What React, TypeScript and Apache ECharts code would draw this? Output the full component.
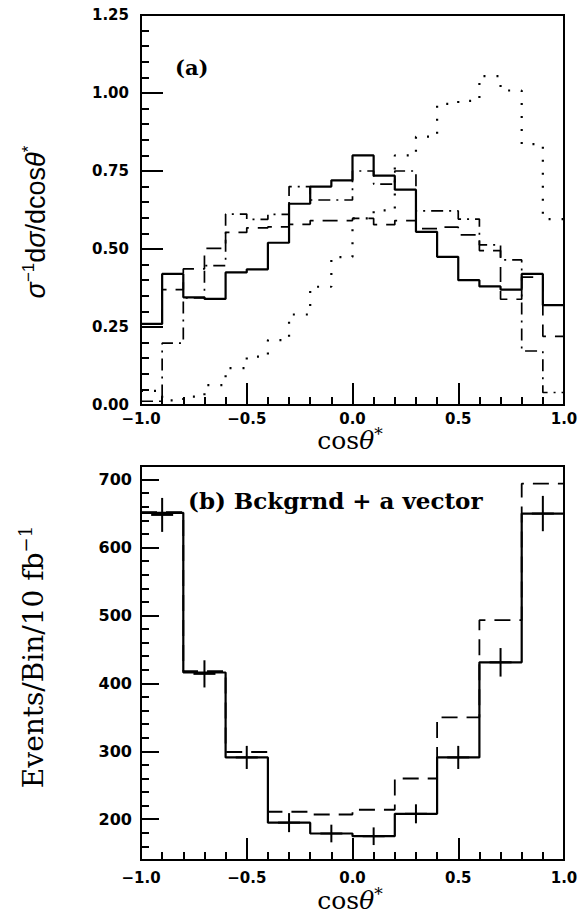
import React, { useEffect, useRef } from 'react';
import * as echarts from 'echarts';

// ---------- Panel (a): normalized distributions ----------
const topBinEdges = [-1.0, -0.9, -0.8, -0.7, -0.6, -0.5, -0.4, -0.3, -0.2, -0.1, 0.0, 0.1, 0.2, 0.3, 0.4, 0.5, 0.6, 0.7, 0.8, 0.9, 1.0];
const topSolid = [0.26, 0.42, 0.345, 0.34, 0.425, 0.435, 0.52, 0.645, 0.70, 0.72, 0.80, 0.735, 0.69, 0.555, 0.475, 0.40, 0.38, 0.37, 0.42, 0.32];
const topDashed = [0.25, 0.37, 0.436, 0.502, 0.553, 0.568, 0.571, 0.579, 0.591, 0.591, 0.598, 0.578, 0.591, 0.565, 0.57, 0.545, 0.495, 0.339, 0.41, 0.22];
const topDashDot = [0.012, 0.198, 0.343, 0.447, 0.612, 0.595, 0.611, 0.70, 0.657, 0.657, 0.75, 0.708, 0.75, 0.622, 0.622, 0.596, 0.513, 0.465, 0.173, 0.04];
const topDotted = [0.045, 0.015, 0.027, 0.064, 0.118, 0.155, 0.208, 0.29, 0.379, 0.474, 0.598, 0.624, 0.80, 0.86, 0.965, 0.975, 1.054, 1.008, 0.836, 0.596];

// ---------- Panel (b): events per bin ----------
const botBinEdges = [-1.0, -0.8, -0.6, -0.4, -0.2, 0.0, 0.2, 0.4, 0.6, 0.8, 1.0];
const botSolid = [651, 416, 291, 195, 179, 175, 208, 291, 431, 650];
const botDashed = [652, 418, 299, 211, 207, 214, 260, 350, 493, 694];
const botPointX = [-0.9, -0.7, -0.5, -0.3, -0.1, 0.1, 0.3, 0.5, 0.7, 0.9];
const botPointY = [648, 414, 291, 195, 179, 175, 208, 291, 431, 650];
const botPointErr = [25, 20, 17, 14, 13, 13, 14, 17, 21, 26];

// tick values
const botYMajorTicks = [200, 300, 400, 500, 600, 700];

function histPoints(edges: number[], values: number[]) {
  const pts = values.map((v, i) => [edges[i], v]);
  pts.push([edges[edges.length - 1], values[values.length - 1]]);
  return pts;
}

const fmtX = (v: number) => {
  if (Math.abs(v) < 1e-9) return '0.0';
  return v < 0 ? '\u2212' + Math.abs(v).toFixed(1) : v.toFixed(1);
};

export default function App() {
  const ref = useRef<HTMLDivElement>(null);
  useEffect(() => {
    document.body.style.margin = '0';
    const chart = echarts.init(ref.current!, null, { renderer: 'svg' });
    const black = '#000';
    const tickFont = 'DejaVu Sans';
    const serif = 'DejaVu Serif';

    const xAxisCommon = (gridIndex: number, margin: number) => ({
      gridIndex,
      type: 'value',
      min: -1,
      max: 1,
      interval: 0.5,
      axisLine: { onZero: false, lineStyle: { color: black, width: 2 } },
      axisTick: { inside: true, length: 22, lineStyle: { color: black, width: 2 } },
      minorTick: { show: true, splitNumber: 5, length: 8, lineStyle: { color: black, width: 2 } },
      splitLine: { show: false },
      minorSplitLine: { show: false },
      axisLabel: {
        margin,
        color: black,
        fontFamily: tickFont,
        fontWeight: 'bold',
        fontSize: 15,
        formatter: fmtX,
      },
    });

    const titleRich = (size: number) => ({
      n: { fontFamily: serif, fontSize: size, lineHeight: 30, fill: black },
      i: { fontFamily: serif, fontSize: size, fontStyle: 'italic', lineHeight: 30, fill: black },
      s: { fontFamily: serif, fontSize: 17, lineHeight: 30, verticalAlign: 'top', fill: black },
    });

    const option: any = {
      animation: false,
      backgroundColor: '#fff',
      grid: [
        { left: 141, top: 15, width: 423, height: 390, show: true, borderColor: black, borderWidth: 2 },
        { left: 141, top: 466, width: 423, height: 394, show: true, borderColor: black, borderWidth: 2 },
      ],
      xAxis: [xAxisCommon(0, 6), xAxisCommon(1, 10)],
      yAxis: [
        {
          gridIndex: 0,
          type: 'value',
          min: 0,
          max: 1.25,
          interval: 0.25,
          axisLine: { onZero: false, lineStyle: { color: black, width: 2 } },
          axisTick: { inside: true, length: 22, lineStyle: { color: black, width: 2 } },
          minorTick: { show: true, splitNumber: 5, length: 8, lineStyle: { color: black, width: 2 } },
          splitLine: { show: false },
          minorSplitLine: { show: false },
          axisLabel: {
            margin: 12,
            color: black,
            fontFamily: tickFont,
            fontWeight: 'bold',
            fontSize: 15,
            formatter: (v: number) => v.toFixed(2),
          },
        },
        {
          gridIndex: 1,
          type: 'value',
          min: 140,
          max: 720,
          position: 'left',
          axisLine: { onZero: false, lineStyle: { color: black, width: 2 } },
          axisTick: { inside: true, length: 18, customValues: botYMajorTicks, lineStyle: { color: black, width: 2 } },
          splitLine: { show: false },
          axisLabel: {
            margin: 9,
            color: black,
            fontFamily: tickFont,
            fontWeight: 'bold',
            fontSize: 16,
            customValues: botYMajorTicks,
            formatter: (v: number) => String(Math.round(v)),
          },
        },
        {
          gridIndex: 1,
          type: 'value',
          min: 140,
          max: 720,
          interval: 20,
          position: 'left',
          axisLine: { show: false, onZero: false },
          axisTick: { inside: true, length: 8, lineStyle: { color: black, width: 2 } },
          splitLine: { show: false },
          axisLabel: { show: false },
        },
      ],
      series: [
        {
          name: 'dotted', type: 'line', xAxisIndex: 0, yAxisIndex: 0, step: 'end', showSymbol: false,
          data: histPoints(topBinEdges, topDotted),
          lineStyle: { color: black, width: 2.2, type: [2, 11], cap: 'butt' }, z: 2,
        },
        {
          name: 'dashdot', type: 'line', xAxisIndex: 0, yAxisIndex: 0, step: 'end', showSymbol: false,
          data: histPoints(topBinEdges, topDashDot),
          lineStyle: { color: black, width: 1.7, type: [12, 6, 2, 6], cap: 'butt' }, z: 2,
        },
        {
          name: 'dashed', type: 'line', xAxisIndex: 0, yAxisIndex: 0, step: 'end', showSymbol: false,
          data: histPoints(topBinEdges, topDashed),
          lineStyle: { color: black, width: 1.7, type: [15, 9], cap: 'butt' }, z: 2,
        },
        {
          name: 'solid', type: 'line', xAxisIndex: 0, yAxisIndex: 0, step: 'end', showSymbol: false,
          data: histPoints(topBinEdges, topSolid),
          lineStyle: { color: black, width: 2.2, type: 'solid' }, z: 3,
        },
        {
          name: 'bdashed', type: 'line', xAxisIndex: 1, yAxisIndex: 1, step: 'end', showSymbol: false,
          data: histPoints(botBinEdges, botDashed),
          lineStyle: { color: black, width: 1.8, type: [16, 9], cap: 'butt' }, z: 2,
        },
        {
          name: 'bsolid', type: 'line', xAxisIndex: 1, yAxisIndex: 1, step: 'end', showSymbol: false,
          data: histPoints(botBinEdges, botSolid),
          lineStyle: { color: black, width: 2.2, type: 'solid' }, z: 3,
        },
        {
          name: 'points', type: 'custom', xAxisIndex: 1, yAxisIndex: 1,
          data: botPointX.map((x, i) => [x, botPointY[i], botPointErr[i]]),
          encode: { x: 0, y: 1 },
          renderItem: (params: any, api: any) => {
            const x = api.value(0);
            const y = api.value(1);
            const e = api.value(2);
            const c = api.coord([x, y]);
            const t = api.coord([x, y + e]);
            const b = api.coord([x, y - e]);
            return {
              type: 'group',
              children: [
                { type: 'line', shape: { x1: c[0], y1: t[1], x2: c[0], y2: b[1] }, style: { stroke: black, lineWidth: 2 } },
                { type: 'line', shape: { x1: c[0] - 11, y1: c[1], x2: c[0] + 11, y2: c[1] }, style: { stroke: black, lineWidth: 2 } },
              ],
            };
          },
          z: 4,
        },
      ],
      graphic: [
        {
          type: 'text', x: 175, y: 67,
          style: { text: '(a)', fill: black, font: `bold 21px "${serif}"`, textAlign: 'left', align: 'left', textVerticalAlign: 'middle', verticalAlign: 'middle' },
        },
        {
          type: 'text', x: 188, y: 500,
          style: { text: '(b) Bckgrnd + a vector', fill: black, font: `bold 23px "${serif}"`, textAlign: 'left', align: 'left', textVerticalAlign: 'middle', verticalAlign: 'middle' },
        },
        {
          type: 'text', x: 350, y: 440,
          style: {
            text: '{n|cos}{i|\u03b8}{s|*}', fill: black, textAlign: 'center', align: 'center', textVerticalAlign: 'middle', verticalAlign: 'middle',
            rich: titleRich(25),
          },
        },
        {
          type: 'text', x: 350, y: 900,
          style: {
            text: '{n|cos}{i|\u03b8}{s|*}', fill: black, textAlign: 'center', align: 'center', textVerticalAlign: 'middle', verticalAlign: 'middle',
            rich: titleRich(25),
          },
        },
        {
          type: 'text', x: 36, y: 222, rotation: Math.PI / 2,
          style: {
            text: '{i|\u03c3}{s|\u22121}{n|d}{i|\u03c3}{n|/dcos}{i|\u03b8}{s|*}', fill: black, textAlign: 'center', align: 'center', textVerticalAlign: 'middle', verticalAlign: 'middle',
            rich: {
              n: { fontFamily: 'Liberation Sans', fontSize: 27, lineHeight: 32, fill: black },
              i: { fontFamily: 'Liberation Sans', fontSize: 27, fontStyle: 'italic', lineHeight: 32, fill: black },
              s: { fontFamily: 'Liberation Sans', fontSize: 17, lineHeight: 32, verticalAlign: 'top', fill: black },
            },
          },
        },
        {
          type: 'text', x: 33, y: 657, rotation: Math.PI / 2,
          style: {
            text: '{n|Events/Bin/10 fb}{s|\u22121}', fill: black, textAlign: 'center', align: 'center', textVerticalAlign: 'middle', verticalAlign: 'middle',
            rich: {
              n: { fontFamily: serif, fontSize: 28, lineHeight: 34, fill: black },
              s: { fontFamily: serif, fontSize: 18, lineHeight: 34, verticalAlign: 'top', fill: black },
            },
          },
        },
      ],
    };
    chart.setOption(option);
    return () => {
      chart.dispose();
    };
  }, []);
  return <div ref={ref} style={{ width: 586, height: 919 }} />;
}
